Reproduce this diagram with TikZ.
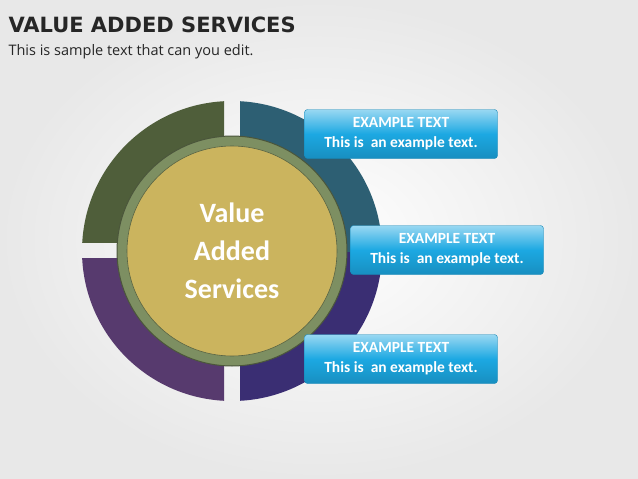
\documentclass[tikz,border=0pt]{standalone}
\usepackage{fontspec}
\setmainfont{Carlito}
\newfontfamily\titlefont{DejaVu Sans}
\newfontfamily\subfont{Open Sans}
\begin{document}
\begin{tikzpicture}[x=1pt,y=-1pt,
  callout/.style={rounded corners=3pt,top color=bx!45!white,bottom color=bx!85!black,middle color=bx,shading angle=0,draw=bx!80!black,minimum width=193pt,minimum height=49pt,align=center,text=white,font=\bfseries\fontsize{15.5}{20}\selectfont},
  seg/.style={even odd rule}]
\definecolor{olv}{HTML}{4F5E3A}
\definecolor{tel}{HTML}{2D5F73}
\definecolor{ind}{HTML}{3A2E73}
\definecolor{pur}{HTML}{573A6E}
\definecolor{rng}{HTML}{7D8F62}
\definecolor{gld}{HTML}{CBB45E}
\definecolor{bx}{HTML}{1CA8E2}
\useasboundingbox (0,0) rectangle (638,479);
\fill[inner color=white,outer color=gray!18] (0,0) rectangle (638,479);
\coordinate (c) at (232,251);
\begin{scope}\clip (0,0) rectangle (224,242);
 \fill[olv,seg] (c) circle (150) (c) circle (110);\end{scope}
\begin{scope}\clip (240,0) rectangle (638,252);
 \fill[tel,seg] (c) circle (150) (c) circle (110);\end{scope}
\begin{scope}\clip (240,252) rectangle (638,479);
 \fill[ind,seg] (c) circle (150) (c) circle (110);\end{scope}
\begin{scope}\clip (0,258) rectangle (224,479);
 \fill[pur,seg] (c) circle (150) (c) circle (110);\end{scope}
\fill[rng,draw=rng!60!black,line width=1pt] (c) circle (115);
\node[circle,fill=gld,draw=rng!70!black,line width=0.6pt,minimum size=210pt,text=white,align=center,font=\bfseries\fontsize{28}{38}\selectfont] (core) at (c) {Value\\Added\\Services};
\node[anchor=west,font=\titlefont\bfseries\fontsize{21}{24}\selectfont,text=black!85] (title) at (5,25) {VALUE ADDED SERVICES};
\node[anchor=west,font=\subfont\fontsize{14.5}{16}\selectfont,text=black!85] (sub) at (5,52) {This is sample text that can you edit.};
\node[callout] (b1) at (401,134) {EXAMPLE TEXT\\This is\ \ an example text.};
\node[callout] (b2) at (447,250) {EXAMPLE TEXT\\This is\ \ an example text.};
\node[callout] (b3) at (401,359) {EXAMPLE TEXT\\This is\ \ an example text.};
\end{tikzpicture}
\end{document}
